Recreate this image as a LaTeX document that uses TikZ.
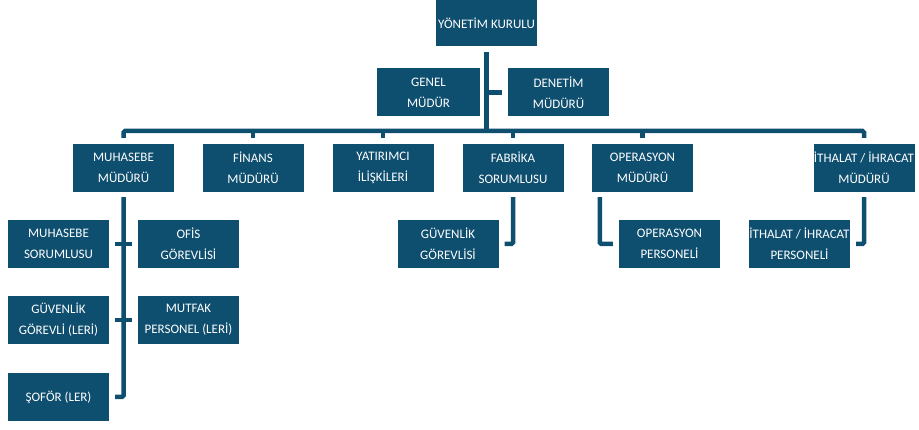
\documentclass[tikz,border=0pt]{standalone}
\usepackage{fontspec}
\setmainfont{Carlito}
\usepackage{xcolor}
\usepackage{tikz}
\usetikzlibrary{calc}
\definecolor{koyumavi}{RGB}{14,78,111}

\begin{document}
\begin{tikzpicture}[x=1pt,y=-1pt,
		kutu/.style={fill=koyumavi,text=white,align=center,inner sep=0pt,minimum width=101pt,minimum height=48pt,font=\fontsize{13}{21}\selectfont},
		bag/.style={draw=koyumavi,line width=4.5pt,rounded corners=1.5pt}]
		\useasboundingbox (0,0) rectangle (919,430);
		% kutular
		\node[kutu,minimum height=46pt] (kurul) at (486.5,23) {YÖNETİM KURULU};
		\node[kutu,minimum width=103pt] (genel) at (428.5,92.5) {GENEL\\MÜDÜR};
		\node[kutu] (denetim) at (558.5,92.5) {DENETİM\\MÜDÜRÜ};
		\node[kutu] (muhasebe) at (123.5,168) {MUHASEBE\\MÜDÜRÜ};
		\node[kutu] (finans) at (253,168) {FİNANS\\MÜDÜRÜ};
		\node[kutu] (yatirimci) at (383,168) {YATIRIMCI\\İLİŞKİLERİ};
		\node[kutu] (fabrika) at (513,168) {FABRİKA\\SORUMLUSU};
		\node[kutu] (operasyon) at (642.5,168) {OPERASYON\\MÜDÜRÜ};
		\node[kutu] (ithalat) at (864,168) {İTHALAT / İHRACAT\\MÜDÜRÜ};
		\node[kutu] (muhsor) at (58.5,244) {MUHASEBE\\SORUMLUSU};
		\node[kutu] (ofis) at (188.5,244) {OFİS\\GÖREVLİSİ};
		\node[kutu] (guvenlik) at (58.5,320) {GÜVENLİK\\GÖREVLİ (LERİ)};
		\node[kutu] (mutfak) at (188.5,320) {MUTFAK\\PERSONEL (LERİ)};
		\node[kutu] (sofor) at (58.5,397) {ŞOFÖR (LER)};
		\node[kutu] (fabguv) at (448,244) {GÜVENLİK\\GÖREVLİSİ};
		\node[kutu] (opper) at (669.5,244) {OPERASYON\\PERSONELİ};
		\node[kutu] (ithper) at (799.5,244) {İTHALAT / İHRACAT\\PERSONELİ};
		% baglantilar
		\coordinate (bus) at (0,131);
		\draw[bag] ([yshift=-6pt]kurul.south) -- (kurul.south |- bus);
		\draw[bag] (kurul.south |- denetim.west) -- ([xshift=-6pt]denetim.west);
		\draw[bag] (kurul.south |- genel.east) -- ([xshift=4pt]genel.east);
		\draw[bag] ([yshift=6pt]muhasebe.north) -- (muhasebe.north |- bus) -- (ithalat.north |- bus) -- ([yshift=6pt]ithalat.north);
		\foreach \n in {finans,yatirimci,fabrika,operasyon}
			\draw[bag] (\n.north |- bus) -- ([yshift=6pt]\n.north);
		\draw[bag] ([yshift=-5pt]muhasebe.south) -- (muhasebe.south |- sofor.east) -- ([xshift=6pt]sofor.east);
		\draw[bag] ([xshift=6pt]muhsor.east) -- ([xshift=-6pt]ofis.west);
		\draw[bag] ([xshift=6pt]guvenlik.east) -- ([xshift=-6pt]mutfak.west);
		\draw[bag] ([yshift=-5pt]fabrika.south) |- ([xshift=6pt]fabguv.east);
		\draw[bag] ([xshift=8pt,yshift=-5pt]operasyon.south west) |- ([xshift=-6pt]opper.west);
		\draw[bag] ([yshift=-5pt]ithalat.south) |- ([xshift=6pt]ithper.east);
	\end{tikzpicture}
\end{document}
